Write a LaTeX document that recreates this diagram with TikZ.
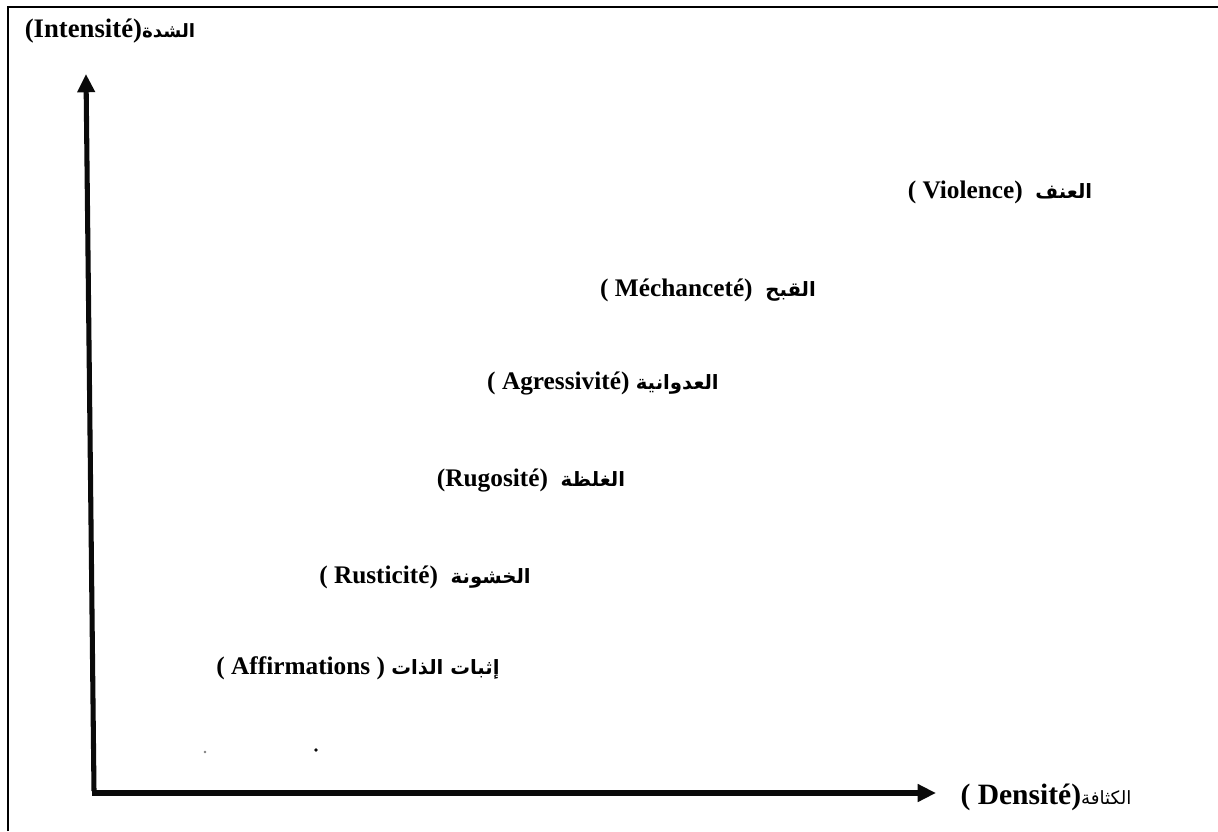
\documentclass[tikz,border=0pt]{standalone}
\usepackage{fontspec}
\setmainfont{Liberation Serif}
\newfontfamily\timesfont{Liberation Serif}
\newfontfamily\arabicfont[Script=Arabic]{DejaVu Sans}
\TeXXeTstate=1
\usetikzlibrary{arrows.meta}

\begin{document}
\begin{tikzpicture}[x=0.025cm,y=-0.025cm,
    lbl/.style={inner sep=1pt,font=\timesfont\fontsize{18}{21}\selectfont\bfseries},
    axis/.style={line width=3.6pt,-{Triangle[length=13pt,width=12pt]}}]
\definecolor{black1}{RGB}{10,10,10}
\useasboundingbox (0,0) rectangle (1218,831);
\fill[white] (0,0) rectangle (1218,831);
% frame
\draw[line width=1.4pt] (8,831) -- (8,7) -- (1218,7);

% axes
\coordinate (origin) at (94,793);
\coordinate (ytip) at (86,74);
\coordinate (xtip) at (936,793);
\draw[axis,black1] (94,791) -- (ytip);
\draw[axis,black1] (92,793) -- (xtip);

% axis labels
\node[lbl,font=\timesfont\fontsize{19}{22}\selectfont\bfseries] (intens) at (110,31)
  {(Intensité){\arabicfont\fontsize{13}{15}\selectfont\beginR الشدة\endR}};
\node[lbl] (dens) at (1046,797)
  {{\fontsize{21}{24}\selectfont( Densité)}{\arabicfont\mdseries\fontsize{13}{15}\selectfont\beginR الكثافة\endR}};

% levels
\node[lbl] (viol) at (1000,192) {( Violence)\ \ {\arabicfont\fontsize{14}{16}\selectfont\beginR العنف\endR}};
\node[lbl] (mech) at (708,290) {( Méchanceté)\ \ {\arabicfont\fontsize{14}{16}\selectfont\beginR القبح\endR}};
\node[lbl] (agr) at (603,383) {( Agressivité) {\arabicfont\fontsize{14}{16}\selectfont\beginR العدوانية\endR}};
\node[lbl] (rug) at (531,480) {(Rugosité)\ \ {\arabicfont\fontsize{14}{16}\selectfont\beginR الغلظة\endR}};
\node[lbl] (rust) at (425,577) {( Rusticité)\ \ {\arabicfont\fontsize{14}{16}\selectfont\beginR الخشونة\endR}};
\node[lbl] (affir) at (358,668) {( Affirmations ) {\arabicfont\fontsize{14}{16}\selectfont\beginR إثبات الذات\endR}};

% specks
\fill[gray] (205,752) circle (1.3);
\fill[black1] (316,750) circle (1.8);
\end{tikzpicture}
\end{document}
